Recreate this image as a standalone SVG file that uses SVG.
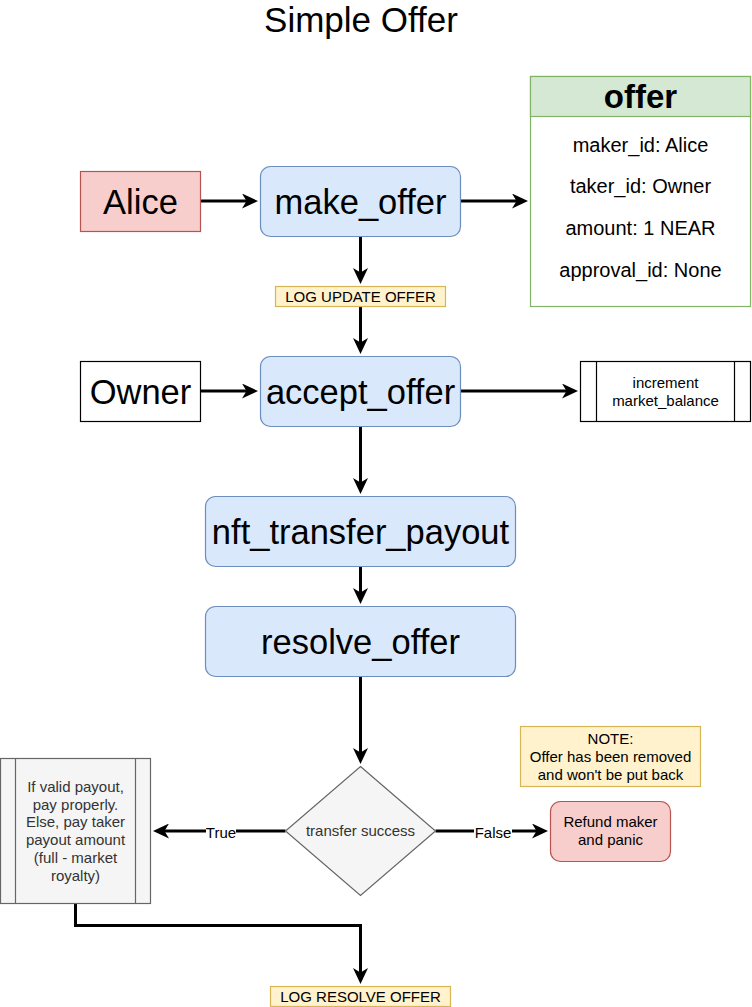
<svg xmlns="http://www.w3.org/2000/svg" width="752" height="1007" viewBox="0 0 752 1007">
<defs>
<marker id="arr" markerUnits="userSpaceOnUse" markerWidth="16" markerHeight="15" viewBox="0 0 16 15" refX="12" refY="7.5" orient="auto">
<path d="M0,0 L16,7.5 L0,15 L4.5,7.5 Z" fill="#000"/>
</marker>
<style>
text{font-family:"Liberation Sans",Arial,sans-serif;text-anchor:middle;fill:#000}
.big{font-size:34.5px}
.row{font-size:20px}
.sm{font-size:15px}
.grey{fill:#333333}
.proc{fill:#dae8fc;stroke:#6c8ebf;stroke-width:1.2}
.log{fill:#fff2cc;stroke:#d6b656;stroke-width:1.2}
.edge{fill:none;stroke:#000;stroke-width:3;marker-end:url(#arr)}
</style>
</defs>
<rect width="752" height="1007" fill="#fff"/>
<text x="361" y="32" style="font-size:35px">Simple Offer</text>

<g id="connectors">
<path class="edge" d="M200.5,201 L254,201"/>
<path class="edge" d="M460.5,201 L524,201"/>
<path class="edge" d="M360.5,236.5 L360.5,280"/>
<path class="edge" d="M360.5,306.5 L360.5,350"/>
<path class="edge" d="M200.5,391 L254,391"/>
<path class="edge" d="M460.5,391 L574,391"/>
<path class="edge" d="M360.5,426.5 L360.5,490"/>
<path class="edge" d="M360.5,566.5 L360.5,600"/>
<path class="edge" d="M360.5,676.5 L360.5,760"/>
<path class="edge" d="M285.5,831 L157,831"/>
<path class="edge" d="M435.5,831 L544,831"/>
<path class="edge" d="M75.5,903.5 L75.5,925.5 L360.5,925.5 L360.5,980"/>
<rect x="206" y="823" width="30" height="17" fill="#fff"/>
<text class="sm" x="221" y="837.5">True</text>
<rect x="474" y="823" width="38" height="17" fill="#fff"/>
<text class="sm" x="493" y="837.5">False</text>
</g>

<g id="alice">
<rect x="80.5" y="171.5" width="120" height="60" fill="#f8cecc" stroke="#b85450" stroke-width="1.2"/>
<text class="big" x="140.5" y="213.5">Alice</text>
</g>
<g id="make_offer">
<rect class="proc" x="260.5" y="166.5" width="200" height="70" rx="10"/>
<text class="big" x="360.5" y="213.5">make_offer</text>
</g>
<g id="offer">
<rect x="530.5" y="76.5" width="220" height="230" fill="#fff" stroke="#82b366" stroke-width="1.2"/>
<rect x="530.5" y="76.5" width="220" height="40" fill="#d5e8d4" stroke="#82b366" stroke-width="1.2"/>
<text x="640.5" y="108" style="font-size:33px;font-weight:bold">offer</text>
<text class="row" x="640.5" y="151.5">maker_id: Alice</text>
<text class="row" x="640.5" y="193">taker_id: Owner</text>
<text class="row" x="640.5" y="235">amount: 1 NEAR</text>
<text class="row" x="640.5" y="277">approval_id: None</text>
</g>
<g id="log_update">
<rect class="log" x="275.5" y="286.5" width="170" height="20"/>
<text class="sm" x="360.5" y="301.7">LOG UPDATE OFFER</text>
</g>
<g id="owner">
<rect x="80.5" y="361.5" width="120" height="60" fill="#fff" stroke="#000" stroke-width="1.2"/>
<text class="big" x="140.5" y="403.5">Owner</text>
</g>
<g id="accept_offer">
<rect class="proc" x="260.5" y="356.5" width="200" height="70" rx="10"/>
<text class="big" x="360.5" y="403.5">accept_offer</text>
</g>
<g id="increment">
<rect x="580.5" y="361.5" width="170" height="60" fill="#fff" stroke="#000" stroke-width="1.2"/>
<line x1="596.5" y1="361.5" x2="596.5" y2="421.5" stroke="#000" stroke-width="1.2"/>
<line x1="734.5" y1="361.5" x2="734.5" y2="421.5" stroke="#000" stroke-width="1.2"/>
<text class="sm" x="665.5" y="387.5">increment</text>
<text class="sm" x="665.5" y="405.5">market_balance</text>
</g>
<g id="nft_transfer_payout">
<rect class="proc" x="205.5" y="496.5" width="310" height="70" rx="10"/>
<text class="big" x="360.5" y="543.5">nft_transfer_payout</text>
</g>
<g id="resolve_offer">
<rect class="proc" x="205.5" y="606.5" width="310" height="70" rx="10"/>
<text class="big" x="360.5" y="653.5">resolve_offer</text>
</g>
<g id="note">
<rect class="log" x="520.5" y="726.5" width="180" height="60"/>
<text class="sm" x="610.5" y="743.7">NOTE:</text>
<text class="sm" x="610.5" y="761.7">Offer has been removed</text>
<text class="sm" x="610.5" y="779.7">and won't be put back</text>
</g>
<g id="transfer_success">
<path d="M360.5,766.5 L435.5,831 L360.5,895.5 L285.5,831 Z" fill="#f5f5f5" stroke="#666666" stroke-width="1.2"/>
<text class="sm grey" x="360.5" y="836.2">transfer success</text>
</g>
<g id="refund">
<rect x="550.5" y="801.5" width="120" height="60" rx="10" fill="#f8cecc" stroke="#b85450" stroke-width="1.2"/>
<text class="sm" x="610.5" y="827.2">Refund maker</text>
<text class="sm" x="610.5" y="845.2">and panic</text>
</g>
<g id="payout">
<rect x="0.5" y="758.5" width="150" height="145" fill="#f5f5f5" stroke="#666666" stroke-width="1.2"/>
<line x1="15.5" y1="758.5" x2="15.5" y2="903.5" stroke="#666666" stroke-width="1.2"/>
<line x1="135.5" y1="758.5" x2="135.5" y2="903.5" stroke="#666666" stroke-width="1.2"/>
<text class="sm grey" x="75.5" y="792">If valid payout,</text>
<text class="sm grey" x="75.5" y="809.7">pay properly.</text>
<text class="sm grey" x="75.5" y="827.4">Else, pay taker</text>
<text class="sm grey" x="75.5" y="845.1">payout amount</text>
<text class="sm grey" x="75.5" y="862.8">(full - market</text>
<text class="sm grey" x="75.5" y="880.5">royalty)</text>
</g>
<g id="log_resolve">
<rect class="log" x="270.5" y="986.5" width="180" height="20"/>
<text class="sm" x="360.5" y="1001.7">LOG RESOLVE OFFER</text>
</g>
</svg>
